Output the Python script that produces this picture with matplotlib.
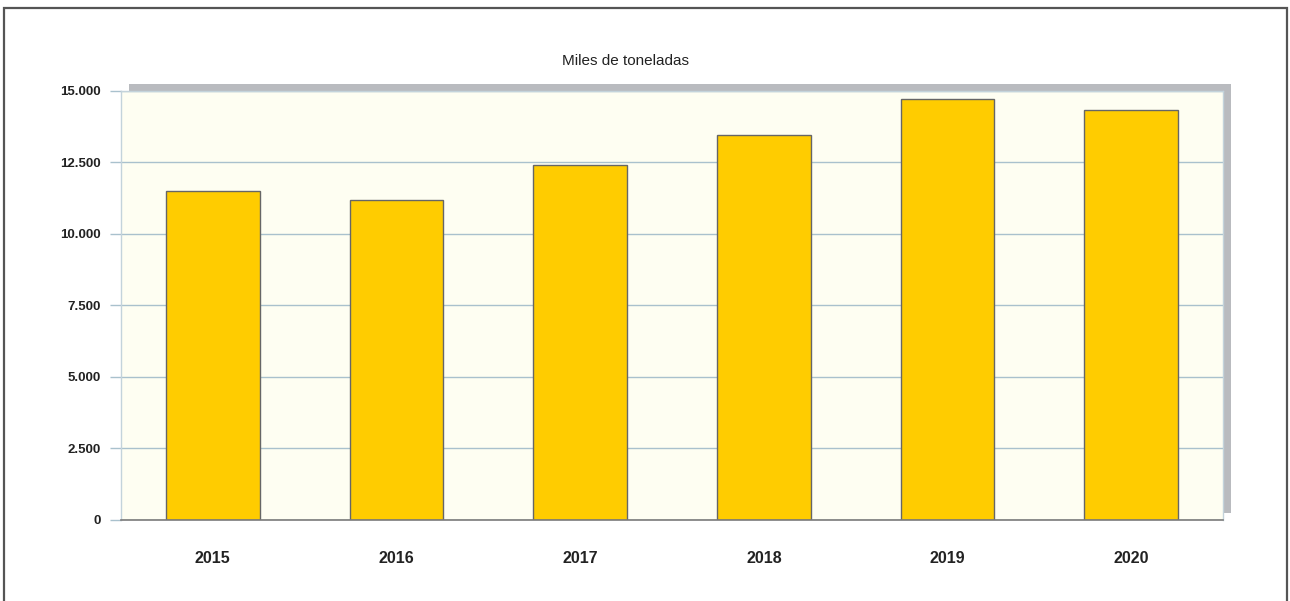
import matplotlib
matplotlib.use("Agg")
import matplotlib.pyplot as plt
from matplotlib.patches import Rectangle
import numpy as np

plt.rcParams['font.family'] = ['Liberation Sans', 'DejaVu Sans']

years = ["2015", "2016", "2017", "2018", "2019", "2020"]
values = [11500, 11160, 12400, 13460, 14720, 14330]
yticks = [0, 2500, 5000, 7500, 10000, 12500, 15000]
ytick_labels = ["0", "2.500", "5.000", "7.500", "10.000", "12.500", "15.000"]
title = "Miles de toneladas"

W, H = 1290, 601
fig = plt.figure(figsize=(W / 100, H / 100), dpi=100)
fig.patch.set_facecolor("white")

ax_l, ax_r, ax_t, ax_b = 121, 1223, 90.5, 520
ax = fig.add_axes([ax_l / W, 1 - ax_b / H, (ax_r - ax_l) / W, (ax_b - ax_t) / H])

# shadow behind the plot area
dx, dy = 8, 7
fig.patches.append(Rectangle(((ax_l + dx) / W, 1 - (ax_b - dy) / H),
                             (ax_r - ax_l) / W, (ax_b - ax_t) / H,
                             transform=fig.transFigure, facecolor="#b9bbbf",
                             edgecolor="none", zorder=0))
# figure border
fig.patches.append(Rectangle((3.5 / W, -0.05), (1287 - 3.5) / W, 1.05 - 8.5 / H,
                             transform=fig.transFigure, facecolor="none",
                             edgecolor="#555555", linewidth=1.6, zorder=1))
ax.set_zorder(2)

ax.set_facecolor("#fefef2")
x = np.arange(len(years))
ax.bar(x, values, width=0.51, color="#ffcc00", edgecolor="#666666",
       linewidth=1.0, zorder=3)
ax.set_xlim(-0.5, len(years) - 0.5)
ax.set_ylim(0, 15000)

ax.set_yticks(yticks)
ax.set_yticklabels(ytick_labels, fontsize=9.5, fontweight="bold", color="#222222")
ax.set_xticks(x)
ax.set_xticklabels(years, fontsize=11.5, fontweight="bold", color="#222222")
ax.tick_params(axis="y", length=8, width=1, color="#a9c1cd", pad=6.5)
ax.tick_params(axis="x", length=0, pad=22)

ax.grid(axis="y", color="#a9c1cd", linewidth=1, zorder=1)
ax.set_axisbelow(True)

for side in ("left", "top", "right"):
    ax.spines[side].set_color("#c3d3db")
    ax.spines[side].set_linewidth(1)
ax.spines["bottom"].set_color("#7a7a7a")
ax.spines["bottom"].set_linewidth(1.2)
ax.spines["bottom"].set_zorder(4)

fig.text(625 / W, 1 - 61 / H, title, ha="center", va="center",
         fontsize=11, color="#222222")

fig.savefig("out.png", dpi=100)
